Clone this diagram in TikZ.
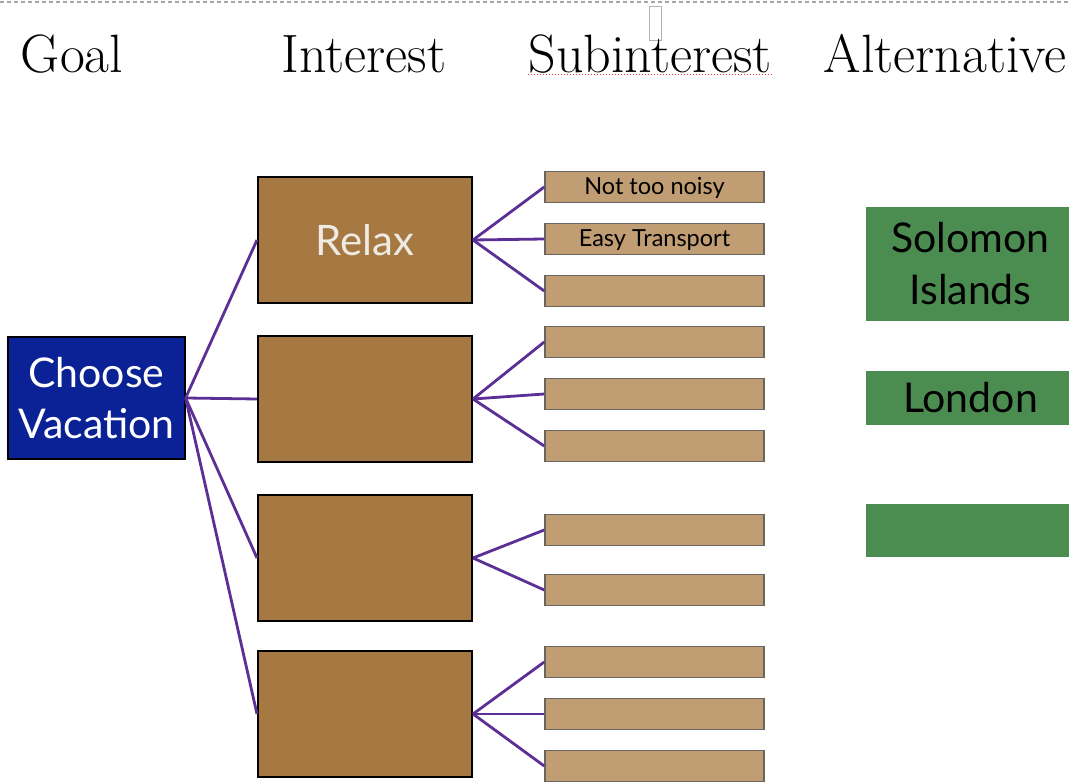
\documentclass[tikz,border=0pt]{standalone}
\usepackage{fontspec}
\setmainfont{Latin Modern Roman}
\newfontfamily\boxfont{Lato}
\begin{document}
\begin{tikzpicture}[x=1pt,y=-1pt,
  goalbox/.style={draw=black,line width=1.2pt,fill=goalblue,text=white,
    minimum width=177pt,minimum height=122pt,inner sep=0pt,align=center,
    font=\boxfont\fontsize{41}{51}\selectfont},
  intbox/.style={draw=black,line width=2pt,fill=intbrown,text=relaxtext,
    minimum width=214pt,minimum height=126pt,inner sep=0pt,
    font=\boxfont\fontsize{42}{46}\selectfont},
  subbox/.style={draw=subborder,line width=1.5pt,fill=subtan,text=black,
    minimum width=219pt,minimum height=31pt,inner sep=0pt,
    text height=19pt,text depth=3pt,
    font=\boxfont\fontsize{23.5}{26}\selectfont},
  altbox/.style={fill=altgreen,text=black,minimum width=209pt,inner sep=0pt,
    align=center,font=\boxfont\fontsize{41}{52}\selectfont},
  head/.style={anchor=base,font=\fontsize{54}{62}\selectfont},
  link/.style={draw=linkpurple,line width=2.8pt}]
\definecolor{goalblue}{HTML}{0B2196}
\definecolor{intbrown}{HTML}{A67842}
\definecolor{relaxtext}{HTML}{EEEAE4}
\definecolor{subtan}{HTML}{C19D74}
\definecolor{subborder}{HTML}{6A6460}
\definecolor{altgreen}{HTML}{4B8C50}
\definecolor{linkpurple}{HTML}{5B2F95}
\useasboundingbox (0,0) rectangle (1069,783);
\begin{scope}
\clip (0,0) rectangle (1069,783);

% page edge and editing marks
\draw[gray!70,line width=1.5pt,dash pattern=on 4pt off 3pt] (0,2) -- (1069,2);
\draw[gray!60,line width=0.8pt] (649,6) rectangle (661,40);

% column headings
\node[head] (hgoal) at (72,73) {Goal};
\node[head] (hint) at (364,73) {Interest};
\node[head] (hsub) at (650,73) {Subinterest};
\node[head] (halt) at (945,73) {Alternative};
\draw[red!80,line width=1pt,dotted] (528,75) -- (773,75);

% goal
\node[goalbox] (goal) at (96.5,398) {Choose\\Vacation};

% interests
\node[intbox] (i1) at (365,240) {Relax};
\node[intbox] (i2) at (365,399) {};
\node[intbox] (i3) at (365,558) {};
\node[intbox] (i4) at (365,714) {};

% subinterests
\node[subbox] (s1) at (654.5,187) {Not too noisy};
\node[subbox] (s2) at (654.5,239) {Easy Transport};
\node[subbox] (s3) at (654.5,291) {};
\node[subbox] (s4) at (654.5,342) {};
\node[subbox] (s5) at (654.5,394) {};
\node[subbox] (s6) at (654.5,446) {};
\node[subbox] (s7) at (654.5,530) {};
\node[subbox] (s8) at (654.5,590) {};
\node[subbox] (s9) at (654.5,662) {};
\node[subbox] (s10) at (654.5,714) {};
\node[subbox] (s11) at (654.5,766) {};

% alternatives
\node[altbox,minimum height=114pt] (a1) at (970.5,264) {Solomon\\Islands};
\node[altbox,minimum height=54pt] (a2) at (970.5,398) {London};
\node[altbox,minimum height=53pt] (a3) at (970.5,530.5) {};

% connectors
\coordinate (gout) at (goal.east);
\foreach \t in {i1,i2,i3,i4} \draw[link] (gout) -- (\t.west);
\foreach \s in {s1,s2,s3} \draw[link] (i1.east) -- (\s.west);
\foreach \s in {s4,s5,s6} \draw[link] (i2.east) -- (\s.west);
\foreach \s in {s7,s8} \draw[link] (i3.east) -- (\s.west);
\foreach \s in {s9,s10,s11} \draw[link] (i4.east) -- (\s.west);
\end{scope}
\end{tikzpicture}
\end{document}
